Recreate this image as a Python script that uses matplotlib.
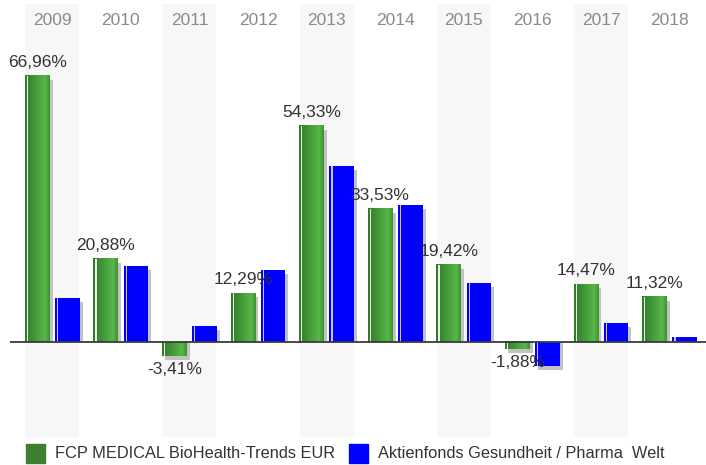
import numpy as np
import matplotlib
matplotlib.use("Agg")
import matplotlib.pyplot as plt
from matplotlib.colors import to_rgb
from matplotlib.patches import Rectangle

years = ["2009", "2010", "2011", "2012", "2013", "2014", "2015", "2016", "2017", "2018"]
fund = [66.96, 20.88, -3.41, 12.29, 54.33, 33.53, 19.42, -1.88, 14.47, 11.32]
sector = [11.1, 19.1, 4.0, 18.1, 44.3, 34.5, 14.8, -6.0, 4.8, 1.3]
names = ["FCP MEDICAL BioHealth-Trends EUR", "Aktienfonds Gesundheit / Pharma  Welt"]

plt.rcParams['font.family'] = ['Liberation Sans', 'DejaVu Sans']

W, H = 706, 465
fig = plt.figure(figsize=(W / 100, H / 100), dpi=100)
ax = fig.add_axes([10 / W, (H - 437) / H, 696 / W, 433 / H])
ax.set_xlim(-0.616, 9.53)
ax.set_ylim(-23.9, 85.0)
ax.axis("off")

px = 1 / 68.7          # one pixel in x data units
py = 1 / 3.975         # one pixel in y data units
bw = 0.36
off = 0.22

# alternating background bands
for i in range(0, len(years), 2):
    ax.axvspan(i - 0.393, i + 0.393, color="#f7f7f7", zorder=0, lw=0)

for i, y in enumerate(years):
    ax.text(i, 0.962, y, transform=ax.get_xaxis_transform(), ha="center",
            va="center", fontsize=12.5, color="#8a8a8a")

# horizontal gradient for the green bars
stops = [to_rgb("#2f7a2a"), to_rgb("#4aa33d"), to_rgb("#56b848"), to_rgb("#3f8f35")]
pos = [0.0, 0.55, 0.82, 1.0]
t = np.linspace(0, 1, 64)
grad = np.stack([np.interp(t, pos, [c[k] for c in stops]) for k in range(3)], axis=-1)[None, :, :]


def draw_bar(x0, v, kind):
    y0, y1 = min(0, v), max(0, v)
    # shadow, offset right and down
    s1 = v - 4 * py
    ax.add_patch(Rectangle((x0 + 3 * px, min(0, s1)), bw, abs(s1),
                           color="#c2c2c2", lw=0, zorder=2))
    if kind == "green":
        ax.imshow(grad, extent=(x0, x0 + bw, y0, y1), aspect="auto",
                  interpolation="bilinear", zorder=3)
        ax.add_patch(Rectangle((x0 + 2 * px, y0), 1.2 * px, y1 - y0,
                               color="#e8f3e6", lw=0, zorder=4))
    else:
        ax.add_patch(Rectangle((x0, y0), bw, y1 - y0, color="#0000ff", lw=0, zorder=3))
        ax.add_patch(Rectangle((x0 + 2 * px, y0), 1.2 * px, y1 - y0,
                               color="#c8c8ff", lw=0, zorder=4))


for i in range(len(years)):
    draw_bar(i - off - bw / 2, fund[i], "green")
    draw_bar(i + off - bw / 2, sector[i], "blue")
    v = fund[i]
    label = f"{v:.2f}".replace(".", ",") + "%"
    ty = v + 13.5 * py if v >= 0 else v - 13.5 * py
    ax.text(i - off, ty, label, ha="center", va="center", fontsize=12.5,
            color="#333333", zorder=6)

ax.axhline(0, color="#3a3a3a", lw=1.3, zorder=5)
ax.set_xlim(-0.616, 9.53)
ax.set_ylim(-23.9, 85.0)

# legend
fig.patches.append(Rectangle((26 / W, (H - 463) / H), 19 / W, 19 / H,
                             transform=fig.transFigure, color="#3d7f2e"))
fig.text(55 / W, (H - 453.5) / H, names[0], fontsize=11.8, color="#333333", va="center")
fig.patches.append(Rectangle((349 / W, (H - 463) / H), 19 / W, 19 / H,
                             transform=fig.transFigure, color="#0000ff"))
fig.text(378 / W, (H - 453.5) / H, names[1], fontsize=11.8, color="#333333", va="center")

fig.savefig("out.png", dpi=100)
